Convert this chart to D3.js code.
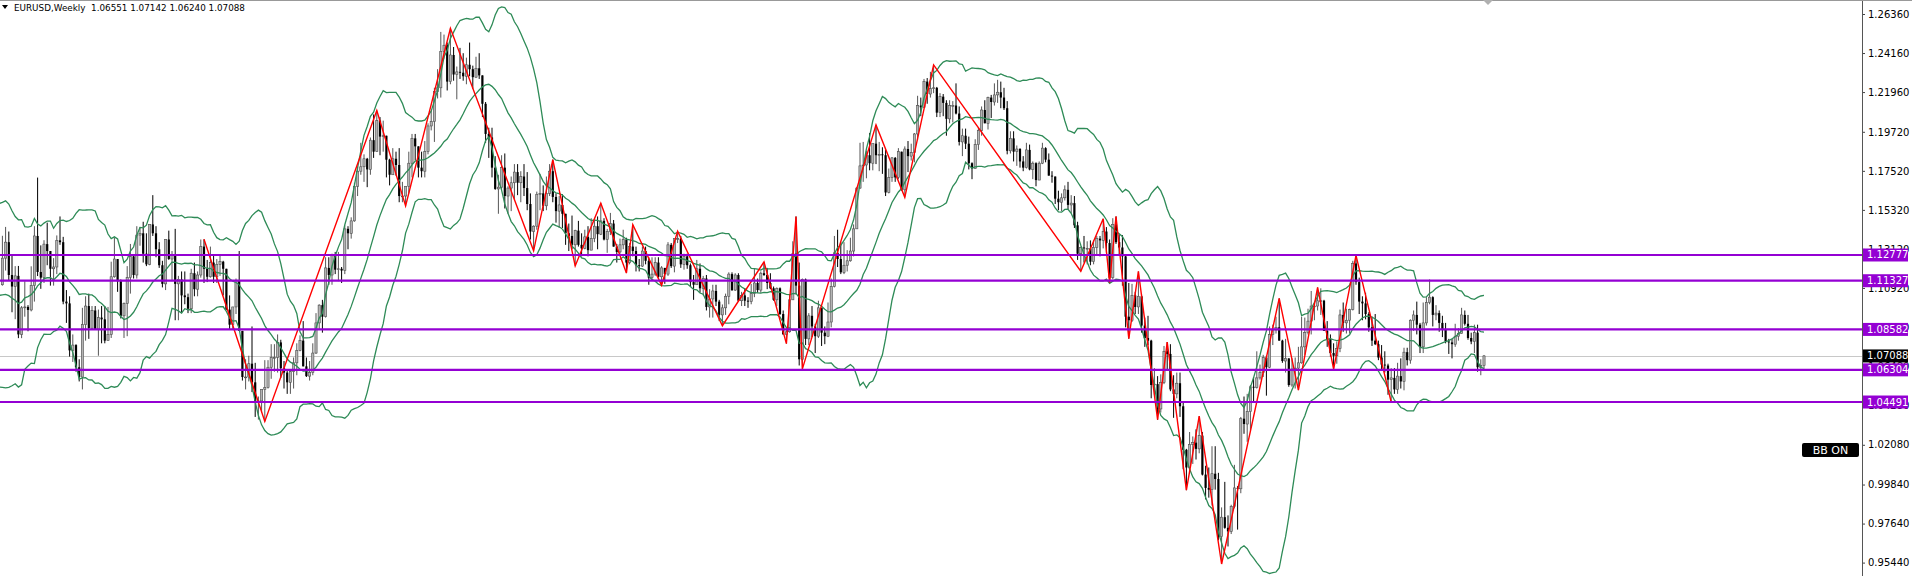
<!DOCTYPE html>
<html>
<head>
<meta charset="utf-8">
<script src="https://cdn.jsdelivr.net/npm/d3@7"></script>
<style>
  body { margin: 0; background: #fff; }
  svg { display: block; }
  text { font-family: "DejaVu Sans", sans-serif; }
</style>
</head>
<body>
<div id="chart"></div>
<script>
// EURUSD weekly, first visible bar = week of 2015-06-08, last = week of 2024-04-22
var title = "EURUSD,Weekly  1.06551 1.07142 1.06240 1.07088";

// 20 closes before the first visible bar (Bollinger warm-up only)
var warmClose = [1.1204,1.1290,1.1315,1.1388,1.1380,1.1196,1.0844,1.0496,1.0822,1.0889,
  1.0970,1.0600,1.0807,1.0874,1.1198,1.1200,1.1447,1.1014,1.0958,1.1110];

var weekHigh = [
  // 2015
  1.1386,1.1436,1.1410,1.1279,1.1215,1.1216,1.0990,1.1130,1.0995,1.1214,1.1440,1.1714,1.1332,1.1361,1.1460,
  1.1300,1.1260,1.1388,1.1495,1.1380,1.1080,1.1045,1.0830,1.0775,1.0690,1.0980,1.1045,1.1060,1.0990,1.0990,
  // 2016
  1.0970,1.0990,1.0990,1.0985,1.1240,1.1375,1.1255,1.1140,1.1010,1.1215,1.1340,1.1275,1.1440,1.1435,1.1465,
  1.1400,1.1450,1.1615,1.1440,1.1350,1.1245,1.1365,1.1415,1.1300,1.1425,1.1160,1.1185,1.1185,1.1060,1.1200,
  1.1235,1.1185,1.1365,1.1366,1.1250,1.1325,1.1280,1.1255,1.1280,1.1245,1.1200,1.1050,1.0985,1.1145,1.1300,
  1.0850,1.0690,1.0710,1.0875,1.0670,1.0480,1.0520,
  // 2017
  1.0685,1.0685,1.0775,1.0775,1.0830,1.0800,1.0680,1.0630,1.0630,1.0700,1.0780,1.0825,1.0905,1.0700,1.0680,
  1.0780,1.0950,1.1000,1.1025,1.1265,1.1265,1.1285,1.1295,1.1295,1.1210,1.1445,1.1440,1.1490,1.1685,1.1775,
  1.1910,1.1845,1.1825,1.1940,1.2070,1.2092,1.2055,1.2035,1.1950,1.1820,1.1880,1.1860,1.1880,1.1690,1.1665,
  1.1860,1.1960,1.1960,1.1890,1.1860,1.1920,1.2020,
  // 2018
  1.2090,1.2220,1.2325,1.2535,1.2520,1.2475,1.2555,1.2450,1.2340,1.2445,1.2415,1.2390,1.2475,1.2345,1.2395,
  1.2415,1.2290,1.2140,1.1995,1.1995,1.1835,1.1730,1.1840,1.1850,1.1665,1.1720,1.1790,1.1790,1.1750,1.1790,
  1.1745,1.1625,1.1445,1.1635,1.1735,1.1670,1.1720,1.1790,1.1815,1.1625,1.1610,1.1620,1.1510,1.1455,1.1500,
  1.1420,1.1470,1.1400,1.1420,1.1440,1.1485,1.1470,1.1495,
  // 2019
  1.1570,1.1485,1.1425,1.1515,1.1475,1.1340,1.1370,1.1420,1.1375,1.1345,1.1448,1.1325,1.1255,1.1325,1.1325,
  1.1265,1.1265,1.1265,1.1265,1.1215,1.1205,1.1350,1.1345,1.1370,1.1412,1.1385,1.1285,1.1285,1.1230,1.1165,
  1.1250,1.1230,1.1160,1.1165,1.1085,1.1110,1.1110,1.1025,1.0999,1.1060,1.1180,1.1180,1.1175,1.1175,1.1070,
  1.1090,1.1040,1.1115,1.1200,1.1145,1.1185,1.1239,
  // 2020
  1.1205,1.1175,1.1100,1.1095,1.1095,1.0965,1.0865,1.1055,1.1355,1.1495,1.1235,1.1145,1.1145,1.0950,1.0990,
  1.0890,1.1020,1.0980,1.0875,1.1010,1.1145,1.1385,1.1420,1.1350,1.1350,1.1305,1.1375,1.1450,1.1660,1.1910,
  1.1915,1.1865,1.1965,1.1905,1.2011,1.1915,1.1885,1.1870,1.1765,1.1830,1.1830,1.1880,1.1860,1.1890,1.1920,
  1.1905,1.1965,1.2175,1.2165,1.2270,1.2275,1.2310,
  // 2021
  1.2349,1.2225,1.2190,1.2185,1.2150,1.2150,1.2145,1.2245,1.2115,1.1990,1.1990,1.1945,1.1800,1.1930,1.1995,
  1.2115,1.2150,1.2170,1.2180,1.2245,1.2265,1.2255,1.2220,1.2145,1.1975,1.1975,1.1895,1.1880,1.1835,1.1910,
  1.1900,1.1805,1.1800,1.1805,1.1910,1.1885,1.1850,1.1750,1.1720,1.1640,1.1625,1.1670,1.1690,1.1615,1.1610,
  1.1465,1.1325,1.1385,1.1355,1.1360,1.1360,1.1385,
  // 2022
  1.1385,1.1482,1.1435,1.1365,1.1485,1.1495,1.1395,1.1390,1.1275,1.1120,1.1115,1.1070,1.1185,1.1055,1.0925,
  1.0935,1.0800,1.0640,1.0595,1.0605,1.0765,1.0787,1.0775,1.0600,1.0615,1.0615,1.0445,1.0185,1.0280,1.0255,
  1.0295,1.0369,1.0280,1.0090,1.0080,1.0200,1.0200,1.0050,0.9855,0.9999,0.9810,0.9870,1.0095,0.9975,1.0365,
  1.0480,1.0495,1.0545,1.0590,1.0735,1.0660,1.0715,
  // 2023
  1.0710,1.0875,1.0885,1.0930,1.1033,1.0800,1.0805,1.0695,1.0695,1.0700,1.0760,1.0930,1.0925,1.0975,1.1075,
  1.1000,1.1095,1.1090,1.1025,1.0905,1.0830,1.0780,1.0790,1.0970,1.1010,1.0975,1.0975,1.1245,1.1276,1.1150,
  1.1045,1.1065,1.0955,1.0930,1.0945,1.0795,1.0770,1.0735,1.0665,1.0640,1.0640,1.0670,1.0695,1.0755,1.0755,
  1.0915,1.0965,1.1015,1.0895,1.1010,1.1040,1.1140,
  // 2024
  1.1045,1.0995,1.0965,1.0935,1.0895,1.0805,1.0805,1.0890,1.0865,1.0980,1.0965,1.0940,1.0840,1.0885,1.0885,
  1.0690,1.07142
];

var weekLow = [
  // 2015
  1.1105,1.1190,1.1134,1.0955,1.0916,1.0809,1.0809,1.0930,1.0848,1.0960,1.1015,1.1159,1.1087,1.1120,1.1220,
  1.1105,1.1105,1.1170,1.1335,1.1000,1.0895,1.0705,1.0675,1.0620,1.0565,1.0520,1.0795,1.0805,1.0855,1.0855,
  // 2016
  1.0710,1.0780,1.0780,1.0795,1.0810,1.1150,1.1070,1.0920,1.0810,1.0820,1.1060,1.1145,1.1145,1.1330,1.1235,
  1.1215,1.1220,1.1385,1.1265,1.1205,1.1095,1.1080,1.1250,1.1130,1.0910,1.0910,1.0950,1.1000,1.0950,1.0950,
  1.1045,1.1045,1.1150,1.1120,1.1125,1.1150,1.1120,1.1120,1.1160,1.1050,1.0970,1.0860,1.0860,1.0945,1.0850,
  1.0570,1.0520,1.0565,1.0505,1.0365,1.0350,1.0390,
  // 2017
  1.0340,1.0525,1.0580,1.0620,1.0615,1.0585,1.0525,1.0495,1.0495,1.0525,1.0600,1.0735,1.0650,1.0590,1.0570,
  1.0600,1.0720,1.0860,1.0840,1.0925,1.1110,1.1110,1.1170,1.1130,1.1120,1.1170,1.1310,1.1370,1.1465,1.1610,
  1.1730,1.1690,1.1660,1.1730,1.1825,1.1860,1.1840,1.1860,1.1715,1.1670,1.1730,1.1725,1.1575,1.1575,1.1554,
  1.1625,1.1715,1.1810,1.1715,1.1715,1.1715,1.1845,
  // 2018
  1.1980,1.1915,1.2160,1.2165,1.2385,1.2205,1.2240,1.2260,1.2155,1.2270,1.2260,1.2240,1.2285,1.2215,1.2275,
  1.2270,1.2055,1.1910,1.1825,1.1715,1.1645,1.1510,1.1645,1.1540,1.1510,1.1525,1.1590,1.1615,1.1575,1.1610,
  1.1530,1.1365,1.1301,1.1420,1.1530,1.1525,1.1530,1.1610,1.1575,1.1460,1.1430,1.1430,1.1335,1.1300,1.1310,
  1.1216,1.1325,1.1270,1.1310,1.1270,1.1305,1.1350,1.1310,
  // 2019
  1.1390,1.1360,1.1290,1.1390,1.1325,1.1235,1.1285,1.1310,1.1176,1.1225,1.1270,1.1185,1.1185,1.1210,1.1225,
  1.1110,1.1135,1.1160,1.1150,1.1107,1.1115,1.1160,1.1205,1.1180,1.1345,1.1205,1.1195,1.1200,1.1100,1.1025,
  1.1110,1.1065,1.1050,1.0965,1.0925,1.0925,1.0990,1.0905,1.0879,1.0940,1.1000,1.1075,1.1075,1.1015,1.0990,
  1.0990,1.0980,1.1000,1.1040,1.1065,1.1065,1.1160,
  // 2020
  1.1085,1.1085,1.1020,1.0990,1.0940,1.0830,1.0778,1.0840,1.1025,1.1055,1.0655,1.0636,1.0770,1.0770,1.0815,
  1.0725,1.0810,1.0765,1.0775,1.0815,1.0870,1.1095,1.1210,1.1170,1.1170,1.1185,1.1240,1.1270,1.1425,1.1650,
  1.1690,1.1710,1.1755,1.1755,1.1790,1.1750,1.1735,1.1610,1.1625,1.1690,1.1690,1.1705,1.1640,1.1603,1.1745,
  1.1810,1.1800,1.1925,1.2060,1.2110,1.2130,1.2165,
  // 2021
  1.2190,1.2055,1.2055,1.2060,1.1950,1.2020,1.2025,1.2070,1.1895,1.1835,1.1875,1.1760,1.1705,1.1765,1.1870,
  1.1950,1.2020,1.1985,1.2050,1.2120,1.2135,1.2105,1.2095,1.1845,1.1850,1.1805,1.1780,1.1770,1.1750,1.1765,
  1.1755,1.1705,1.1665,1.1700,1.1790,1.1800,1.1725,1.1685,1.1565,1.1530,1.1525,1.1585,1.1535,1.1515,1.1430,
  1.1250,1.1186,1.1235,1.1225,1.1220,1.1225,1.1280,
  // 2022
  1.1270,1.1315,1.1290,1.1121,1.1140,1.1340,1.1280,1.1105,1.0870,1.0806,1.0900,1.0945,1.0945,1.0840,1.0760,
  1.0770,1.0470,1.0490,1.0349,1.0390,1.0550,1.0625,1.0510,1.0360,1.0470,1.0365,1.0070,0.9952,1.0080,1.0100,
  1.0125,1.0160,1.0035,0.9900,0.9910,0.9865,0.9955,0.9670,0.9536,0.9735,0.9635,0.9705,0.9850,0.9730,0.9935,
  1.0270,1.0225,1.0290,1.0445,1.0525,1.0575,1.0590,
  // 2023
  1.0485,1.0640,1.0770,1.0835,1.0795,1.0670,1.0615,1.0535,1.0535,1.0525,1.0516,1.0665,1.0715,1.0830,1.0830,
  1.0910,1.0965,1.0940,1.0850,1.0760,1.0705,1.0635,1.0665,1.0730,1.0845,1.0835,1.0835,1.0965,1.1110,1.0945,
  1.0910,1.0915,1.0845,1.0765,1.0770,1.0685,1.0630,1.0615,1.0490,1.0448,1.0495,1.0495,1.0525,1.0515,1.0655,
  1.0665,1.0850,1.0830,1.0725,1.0725,1.0880,1.1000,
  // 2024
  1.0875,1.0910,1.0845,1.0815,1.0780,1.0720,1.0695,1.0760,1.0795,1.0835,1.0880,1.0800,1.0775,1.0725,1.0620,
  1.0600,1.06240
];

var weekClose = [
  // 2015
  1.1260,1.1350,1.1165,1.1100,1.1160,1.0830,1.0980,1.0985,1.0968,1.1105,1.1385,1.1182,1.1150,1.1339,1.1300,
  1.1200,1.1210,1.1360,1.1350,1.1015,1.1005,1.0740,1.0770,1.0645,1.0590,1.0885,1.0990,1.0865,1.0965,1.0860,
  // 2016
  1.0925,1.0915,1.0795,1.0830,1.1155,1.1255,1.1130,1.0935,1.1005,1.1150,1.1270,1.1165,1.1390,1.1400,1.1285,
  1.1225,1.1450,1.1400,1.1310,1.1220,1.1115,1.1365,1.1255,1.1275,1.1115,1.1140,1.1050,1.1040,1.0975,1.1175,
  1.1085,1.1165,1.1325,1.1200,1.1155,1.1235,1.1155,1.1225,1.1240,1.1200,1.0970,1.0885,1.0985,1.1135,1.0850,
  1.0590,1.0590,1.0665,1.0560,1.0450,1.0455,1.0520,
  // 2017
  1.0530,1.0645,1.0700,1.0700,1.0785,1.0640,1.0615,1.0560,1.0620,1.0670,1.0740,1.0795,1.0650,1.0595,1.0615,
  1.0725,1.0895,1.0995,1.0930,1.1205,1.1165,1.1280,1.1195,1.1200,1.1190,1.1425,1.1400,1.1470,1.1665,1.1750,
  1.1775,1.1820,1.1760,1.1925,1.1860,1.2035,1.1945,1.1950,1.1815,1.1730,1.1820,1.1785,1.1610,1.1610,1.1665,
  1.1795,1.1935,1.1890,1.1770,1.1750,1.1860,1.2005,
  // 2018
  1.2030,1.2200,1.2220,1.2425,1.2460,1.2255,1.2405,1.2295,1.2310,1.2305,1.2285,1.2350,1.2325,1.2280,1.2330,
  1.2290,1.2130,1.1960,1.1940,1.1770,1.1650,1.1660,1.1770,1.1610,1.1655,1.1685,1.1745,1.1685,1.1720,1.1655,
  1.1565,1.1410,1.1440,1.1620,1.1625,1.1555,1.1625,1.1750,1.1605,1.1525,1.1560,1.1510,1.1400,1.1385,1.1335,
  1.1415,1.1335,1.1315,1.1380,1.1305,1.1370,1.1440,1.1395,
  // 2019
  1.1470,1.1365,1.1410,1.1455,1.1325,1.1295,1.1335,1.1365,1.1235,1.1325,1.1300,1.1220,1.1215,1.1300,1.1245,
  1.1150,1.1170,1.1235,1.1155,1.1205,1.1170,1.1335,1.1215,1.1370,1.1370,1.1225,1.1270,1.1220,1.1125,1.1110,
  1.1200,1.1090,1.1145,1.0985,1.1030,1.1075,1.1015,1.0940,1.0980,1.1045,1.1170,1.1080,1.1165,1.1020,1.1050,
  1.1020,1.1015,1.1060,1.1120,1.1080,1.1175,1.1165,
  // 2020
  1.1120,1.1090,1.1025,1.1090,1.0945,1.0830,1.0845,1.1025,1.1285,1.1105,1.0690,1.1140,1.0805,1.0935,1.0875,
  1.0820,1.0980,1.0840,1.0820,1.0900,1.1100,1.1290,1.1255,1.1180,1.1220,1.1245,1.1300,1.1425,1.1655,1.1780,
  1.1785,1.1840,1.1795,1.1905,1.1840,1.1845,1.1840,1.1630,1.1715,1.1825,1.1715,1.1860,1.1645,1.1875,1.1835,
  1.1855,1.1960,1.2120,1.2110,1.2255,1.2185,1.2215,
  // 2021
  1.2220,1.2080,1.2170,1.2135,1.2045,1.2120,1.2120,1.2075,1.1915,1.1950,1.1905,1.1795,1.1765,1.1900,1.1980,
  1.2095,1.2020,1.2165,1.2140,1.2180,1.2195,1.2165,1.2105,1.1865,1.1935,1.1860,1.1875,1.1805,1.1770,1.1870,
  1.1760,1.1795,1.1700,1.1795,1.1880,1.1815,1.1725,1.1720,1.1595,1.1575,1.1600,1.1645,1.1560,1.1570,1.1445,
  1.1285,1.1320,1.1315,1.1315,1.1240,1.1320,1.1370,
  // 2022
  1.1360,1.1410,1.1345,1.1150,1.1450,1.1350,1.1320,1.1270,1.0930,1.0910,1.1050,1.0985,1.1045,1.0880,1.0810,
  1.0795,1.0545,1.0550,1.0410,1.0560,1.0735,1.0720,1.0520,1.0495,1.0555,1.0425,1.0180,1.0080,1.0210,1.0220,
  1.0185,1.0260,1.0040,0.9965,0.9955,1.0045,1.0015,0.9690,0.9800,0.9740,0.9720,0.9860,0.9965,0.9960,1.0355,
  1.0325,1.0395,1.0535,1.0530,1.0585,1.0615,1.0700,
  // 2023
  1.0645,1.0830,1.0855,1.0870,1.0795,1.0680,1.0695,1.0545,1.0635,1.0640,1.0670,1.0760,1.0840,1.0905,1.0990,
  1.0990,1.1020,1.1020,1.0850,1.0805,1.0725,1.0710,1.0750,1.0940,1.0895,1.0910,1.0970,1.1230,1.1125,1.1015,
  1.1005,1.0945,1.0870,1.0795,1.0775,1.0700,1.0660,1.0655,1.0575,1.0585,1.0520,1.0595,1.0565,1.0730,1.0685,
  1.0910,1.0940,1.0885,1.0760,1.0895,1.1010,1.1040,
  // 2024
  1.0940,1.0950,1.0895,1.0855,1.0790,1.0785,1.0775,1.0820,1.0835,1.0940,1.0890,1.0810,1.0790,1.0840,1.0645,
  1.0655,1.07088
];

// ZigZag turning points (bar index into the arrays above, and which extreme)
var zzIndex = [63,82,117,126,140,166,172,179,187,195,197,206,211,225,238,245,248,250,273,282,
  291,337,344,346,348,352,355,361,364,370,374,381,399,405,411,416,423,434];
var zzSide = ["H","L","H","L","H","L","H","L","H","L","H","L","H","L","H","L","H","L","H","L",
  "H","L","H","L","H","L","H","L","H","L","H","L","H","L","H","L","H","L"];

// horizontal levels and the current bid
var levels = [1.12777, 1.11327, 1.08582, 1.06304, 1.04491];
var bid = 1.07088;

var priceTicks = [1.26360,1.24160,1.21960,1.19720,1.17520,1.15320,1.13120,1.10920,
  1.08720,1.06480,1.04280,1.02080,0.99840,0.97640,0.95440];

var bbPeriod = 20, bbDev = 2;

var W = 1912, H = 576, axisX = 1862;

var svg = d3.select("#chart").append("svg")
  .attr("width", W).attr("height", H);

svg.append("defs").append("clipPath").attr("id", "plot")
  .append("rect").attr("x", 0).attr("y", 0).attr("width", axisX).attr("height", H);

var x = d3.scaleLinear().domain([0, weekClose.length - 1]).range([2.4, 1484]);
var y = d3.scaleLinear().domain([0.95440, 1.26360]).range([562.6, 14.0]);

var bars = weekClose.map(function(c, i) {
  return {
    i: i,
    o: i ? weekClose[i - 1] : warmClose[warmClose.length - 1],
    h: weekHigh[i],
    l: weekLow[i],
    c: c
  };
});

// Bollinger bands on closes
var allClose = warmClose.concat(weekClose);
var bands = [];
for (var k = bbPeriod - 1; k < allClose.length; k++) {
  var win = allClose.slice(k - bbPeriod + 1, k + 1);
  var m = d3.mean(win);
  var sd = Math.sqrt(d3.mean(win, function(v) { return (v - m) * (v - m); }));
  bands.push({ i: k - warmClose.length, mid: m, up: m + bbDev * sd, dn: m - bbDev * sd });
}

var plot = svg.append("g").attr("clip-path", "url(#plot)");

// current price line
plot.append("line")
  .attr("x1", 0).attr("x2", axisX)
  .attr("y1", Math.round(y(bid)) + 0.5).attr("y2", Math.round(y(bid)) + 0.5)
  .attr("stroke", "#c8c8c8").attr("stroke-width", 1);

// candles
var candle = plot.append("g").selectAll("g").data(bars).enter().append("g");
candle.append("line")
  .attr("x1", function(d) { return x(d.i); })
  .attr("x2", function(d) { return x(d.i); })
  .attr("y1", function(d) { return y(Math.max(d.h, d.o, d.c)); })
  .attr("y2", function(d) { return y(Math.min(d.l, d.o, d.c)); })
  .attr("stroke", function(d) { return d.c >= d.o ? "#555" : "#000"; })
  .attr("stroke-width", 1);
candle.append("rect")
  .attr("x", function(d) { return x(d.i) - 1.1; })
  .attr("width", 2.2)
  .attr("y", function(d) { return y(Math.max(d.o, d.c)); })
  .attr("height", function(d) { return Math.max(0.8, Math.abs(y(d.o) - y(d.c))); })
  .attr("fill", function(d) { return d.c >= d.o ? "#b4b4b4" : "#000"; })
  .attr("stroke", function(d) { return d.c >= d.o ? "#4d4d4d" : "none"; })
  .attr("stroke-width", 0.6);

// Bollinger lines
["up", "mid", "dn"].forEach(function(key) {
  plot.append("path")
    .datum(bands.filter(function(b) { return b.i >= -1; }))
    .attr("fill", "none")
    .attr("stroke", "#2e8b57")
    .attr("stroke-width", 1.3)
    .attr("d", d3.line()
      .x(function(b) { return x(b.i); })
      .y(function(b) { return y(b[key]); }));
});

// ZigZag
plot.append("path")
  .datum(zzIndex.map(function(v, n) {
    return [x(v), y(zzSide[n] === "H" ? weekHigh[v] : weekLow[v])];
  }))
  .attr("fill", "none")
  .attr("stroke", "#ff0000")
  .attr("stroke-width", 1.4)
  .attr("d", d3.line());

// horizontal levels
plot.selectAll(".level").data(levels).enter().append("line")
  .attr("class", "level")
  .attr("x1", 0).attr("x2", axisX)
  .attr("y1", function(d) { return y(d); })
  .attr("y2", function(d) { return y(d); })
  .attr("stroke", "#9400d3").attr("stroke-width", 2.2);

// price axis
var axis = svg.append("g")
  .attr("transform", "translate(" + axisX + ",0)")
  .call(d3.axisRight(y).tickValues(priceTicks).tickSize(3).tickSizeOuter(0)
    .tickFormat(d3.format(".5f")));
axis.select(".domain").remove();
axis.selectAll(".tick line").attr("stroke", "#444");
axis.selectAll(".tick text")
  .attr("x", 6)
  .style("font-family", "'DejaVu Sans', sans-serif")
  .style("font-size", "10px")
  .attr("fill", "#000");

svg.append("line")
  .attr("x1", axisX + 0.5).attr("x2", axisX + 0.5)
  .attr("y1", 0).attr("y2", H)
  .attr("stroke", "#555").attr("stroke-width", 1);

// top frame line and shift marker
svg.append("line")
  .attr("x1", 0).attr("x2", W).attr("y1", 0.5).attr("y2", 0.5)
  .attr("stroke", "#999").attr("stroke-width", 1);
svg.append("path")
  .attr("d", "M" + (x(weekClose.length - 1) - 1) + ",0 l10,0 l-5,5 z")
  .attr("fill", "#b0b0b0");

// level tags
function tag(price, fill) {
  var g = svg.append("g").attr("transform", "translate(" + (axisX + 1) + "," + y(price) + ")");
  g.append("rect").attr("x", 0).attr("y", -6.5).attr("width", 45).attr("height", 13).attr("fill", fill);
  g.append("text").attr("x", 4).attr("dy", "0.35em")
    .attr("fill", "#fff").style("font-size", "10px")
    .text(d3.format(".5f")(price));
}
levels.forEach(function(p) { tag(p, "#9400d3"); });
tag(bid, "#000");

// BB ON badge
var badge = svg.append("g").attr("transform", "translate(1802,443)");
badge.append("rect").attr("width", 57).attr("height", 14).attr("rx", 2).attr("fill", "#000");
badge.append("text").attr("x", 28.5).attr("y", 7).attr("dy", "0.36em")
  .attr("text-anchor", "middle").attr("fill", "#fff").style("font-size", "11px")
  .text("BB ON");

// title
svg.append("path").attr("d", "M2,5 L8,5 L5,9 Z").attr("fill", "#000");
svg.append("text")
  .attr("x", 14).attr("y", 11)
  .style("font-size", "8.8px").style("white-space", "pre")
  .attr("fill", "#000")
  .text(title);
</script>
</body>
</html>
